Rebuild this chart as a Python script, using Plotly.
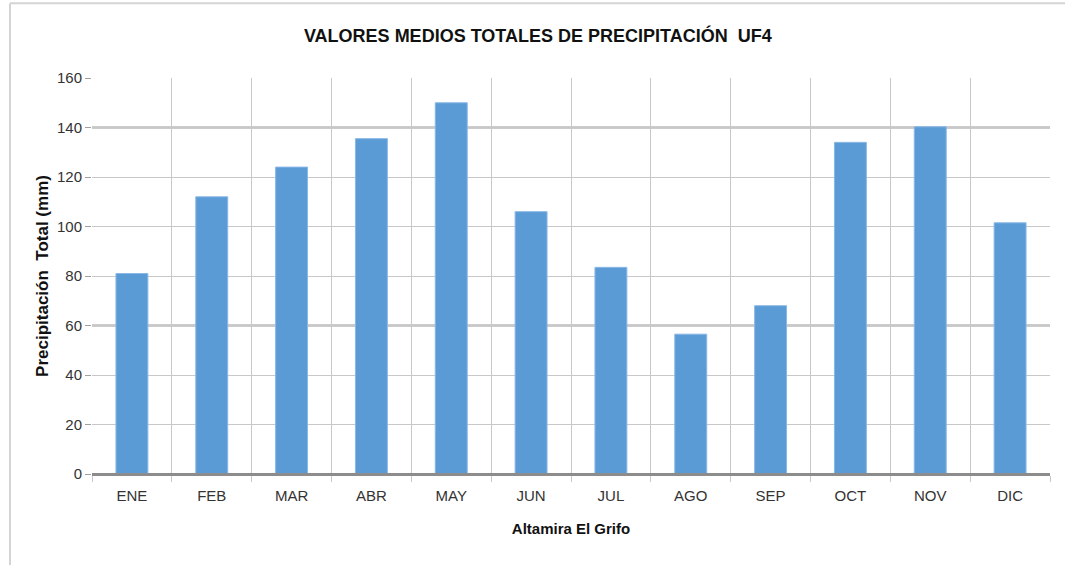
import plotly.graph_objects as go

months = ["ENE", "FEB", "MAR", "ABR", "MAY", "JUN", "JUL", "AGO", "SEP", "OCT", "NOV", "DIC"]
precip = [81.0, 112.0, 124.0, 135.5, 150.0, 106.0, 83.5, 56.5, 68.0, 134.0, 140.3, 101.5]
y_ticks = [0, 20, 40, 60, 80, 100, 120, 140, 160]

title_text = "VALORES MEDIOS TOTALES DE PRECIPITACIÓN  UF4"
x_title = "Altamira El Grifo"
y_title = "Precipitación  Total (mm)"

narrow = "Liberation Sans Narrow, Arial Narrow, Liberation Sans, Arial, sans-serif"
regular = "Liberation Sans, Arial, sans-serif"

fig = go.Figure()
fig.add_trace(go.Bar(
    x=months, y=precip,
    marker=dict(color="#5b9bd5", line=dict(color="#8ab8e6", width=1)),
    showlegend=False,
))

fig.update_layout(
    width=1065, height=565,
    paper_bgcolor="white", plot_bgcolor="white",
    margin=dict(l=92, r=15, t=78, b=91),
    bargap=0.6,
    title=dict(text="<b>" + title_text + "</b>", x=0.505, xanchor="center", y=0.937, yanchor="middle",
               font=dict(family=narrow, size=18, color="#111111")),
    xaxis=dict(
        tickson="boundaries", showgrid=True, gridcolor="#c8c8c8", gridwidth=1,
        showline=True, linecolor="#8c8c8c", linewidth=2,
        ticks="outside", ticklen=6, tickcolor="#c8c8c8",
        ticklabelstandoff=7,
        tickfont=dict(family=narrow, size=15, color="#333333"),
        title=dict(text="<b>" + x_title + "</b>", font=dict(family=regular, size=15, color="#111111"), standoff=20),
        mirror=False,
    ),
    yaxis=dict(
        range=[0, 160], tickvals=y_ticks, showgrid=True, gridcolor="#c8c8c8", gridwidth=1,
        zeroline=False, showline=False,
        ticks="outside", ticklen=6, tickcolor="#a0a0a0",
        tickfont=dict(family=narrow, size=15, color="#333333"),
        title=dict(text="<b>" + y_title + "</b>", font=dict(family=regular, size=17, color="#111111"), standoff=4),
    ),
    shapes=[
        dict(type="line", xref="paper", yref="paper", x0=-0.0856, x1=1.1, y0=1.189, y1=1.189,
             line=dict(color="#d4d4d4", width=2)),
        dict(type="line", xref="paper", yref="paper", x0=-0.0856, x1=-0.0856, y0=-0.5, y1=1.189,
             line=dict(color="#d4d4d4", width=2)),
    ],
)

for yv in [60, 140]:
    fig.add_hline(y=yv, line=dict(color="#9a9a9a", width=2), layer="below")
fig.add_hline(y=0, line=dict(color="#8c8c8c", width=2))

fig.write_html("out.html", config={"displayModeBar": False},
               post_script="document.body.style.margin='0';document.body.style.overflow='hidden';")
